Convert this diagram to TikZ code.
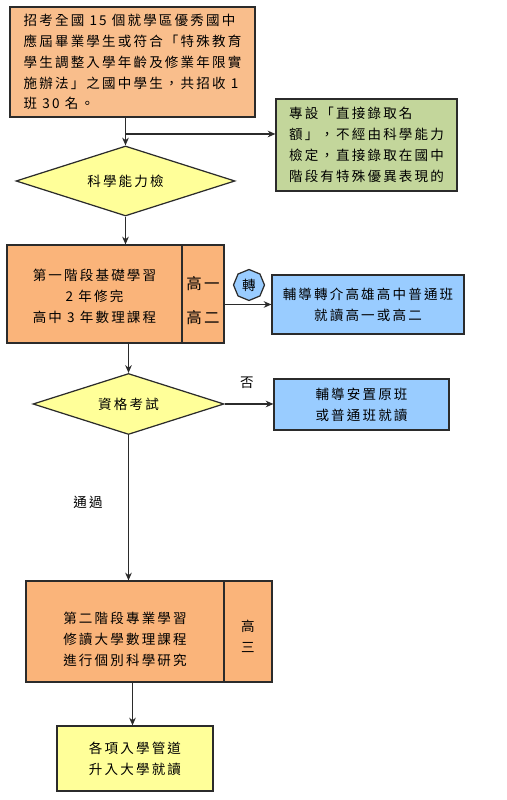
\documentclass[tikz,border=0pt]{standalone}
\usepackage{fontspec}
\usepackage{xcolor}
\usetikzlibrary{arrows.meta, shapes.geometric}
\newfontfamily\cjk[LetterSpace=16]{Noto Sans CJK TC}
\definecolor{korange}{HTML}{FAB47A}
\definecolor{kpeach}{HTML}{F9BE8C}
\definecolor{kgreen}{HTML}{C3D69B}
\definecolor{kblue}{HTML}{99CCFF}
\definecolor{kyellow}{HTML}{FFFF99}
\definecolor{kedge}{HTML}{2B2B2B}
\newcommand{\toppad}[1]{\rule{0pt}{#1}}
\tikzset{
  flowbox/.style={draw=kedge, line width=0.7pt, inner sep=0pt, align=center,
    font=\cjk\fontsize{7.7}{11.9}\selectfont},
  flowdia/.style={flowbox, diamond, aspect=3, fill=kyellow},
  flowarrow/.style={kedge, line width=0.6pt, -{Stealth[length=4.4pt,width=3.8pt]}},
  flowlabel/.style={inner sep=0pt, font=\cjk\fontsize{7.7}{11.9}\selectfont}
}
\begin{document}
\begin{tikzpicture}[x=1cm, y=1cm]
  \useasboundingbox (0,0) rectangle (10.12,16);

  %% Intake box and the direct admission box
  \node[flowbox, fill=kpeach, minimum width=4.90cm, minimum height=2.20cm, align=left] (intake) at (2.65,14.76)
    {招考全國 15 個就學區優秀國中\\應屆畢業學生或符合「特殊教育\\學生調整入學年齡及修業年限實\\施辦法」之國中學生，共招收 1\\班 30 名。};
  \node[flowbox, fill=kgreen, minimum width=3.62cm, minimum height=1.84cm, align=left] (direct) at (7.33,13.10)
    {專設「直接錄取名\\額」，不經由科學能力\\檢定，直接錄取在國中\\階段有特殊優異表現的};

  %% First check
  \node[flowdia, minimum width=4.38cm, minimum height=1.40cm] (check1) at (2.51,12.38) {科學能力檢};

  %% Stage one
  \node[flowbox, fill=korange, minimum width=3.50cm, minimum height=1.96cm] (stage1) at (1.89,10.12)
    {\toppad{0.33cm}第一階段基礎學習\\2 年修完\\高中 3 年數理課程};
  \node[flowbox, fill=korange, minimum width=0.84cm, minimum height=1.96cm, font=\cjk\fontsize{8.8}{19.3}\selectfont] (grade1) at (4.06,10.12)
    {\toppad{0.52cm}高一\\高二};
  \node[flowbox, fill=kblue, regular polygon, regular polygon sides=8, shape border rotate=22.5, minimum size=0.62cm] (turn) at (4.98,10.30) {轉};
  \node[flowbox, fill=kblue, minimum width=3.84cm, minimum height=1.18cm] (transfer) at (7.36,9.91)
    {輔導轉介高雄高中普通班\\就讀高一或高二};

  %% Second check
  \node[flowdia, minimum width=3.82cm, minimum height=1.22cm] (check2) at (2.57,7.92) {資格考試};
  \node[flowbox, fill=kblue, minimum width=3.50cm, minimum height=1.02cm] (stay) at (7.23,7.91)
    {輔導安置原班\\或普通班就讀};
  \node[flowlabel] (nolab) at (4.94,8.34) {否};
  \node[flowlabel] (passlab) at (1.76,5.96) {通過};

  %% Stage two
  \node[flowbox, fill=korange, minimum width=3.96cm, minimum height=2.02cm] (stage2) at (2.50,3.37)
    {\toppad{0.53cm}第二階段專業學習\\修讀大學數理課程\\進行個別科學研究};
  \node[flowbox, fill=korange, minimum width=0.96cm, minimum height=2.02cm] (grade3) at (4.96,3.37)
    {\toppad{0.41cm}高\\三};

  %% Final box
  \node[flowbox, fill=kyellow, minimum width=3.12cm, minimum height=1.30cm] (final) at (2.70,0.83)
    {各項入學管道\\升入大學就讀};

  %% Connectors
  \coordinate (branch) at (2.50,13.32);
  \draw[flowarrow] (check1.north |- intake.south) -- (check1.north);
  \draw[flowarrow, line width=0.9pt] (branch) -- (branch -| direct.west);
  \draw[flowarrow] (check1.south) -- (check1.south |- stage1.north);
  \draw[flowarrow] (check2.north |- stage1.south) -- (check2.north);
  \draw[flowarrow] (transfer.west -| grade1.east) -- (transfer.west);
  \draw[flowarrow] (check2.east) -- (stay.west |- check2.east);
  \draw[flowarrow] (check2.south) -- (check2.south |- stage2.north);
  \draw[flowarrow] ([xshift=-0.05cm]final.north |- stage2.south) -- ([xshift=-0.05cm]final.north);

\end{tikzpicture}
\end{document}
